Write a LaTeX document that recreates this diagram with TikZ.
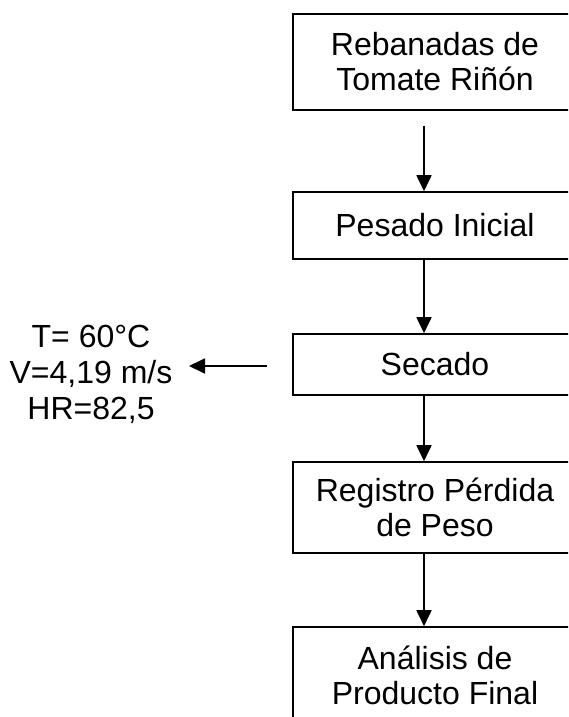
\documentclass[tikz,border=0pt]{standalone}
\usepackage{fontspec}
\setmainfont{Liberation Sans}
\usetikzlibrary{arrows.meta}
\begin{document}
\begin{tikzpicture}[x=1pt,y=-1pt,
  stepbox/.style={draw=black, line width=1.6pt, minimum width=284pt, align=center, inner sep=0pt,
    font=\fontsize{32}{35}\selectfont},
  arr/.style={line width=1.8pt, -{Triangle[width=15pt,length=16pt]}},
  lbl/.style={align=center, inner sep=0pt, font=\fontsize{32}{36}\selectfont}]
\useasboundingbox (0,0) rectangle (568,717);
\clip (0,0) rectangle (568,717);
\node[stepbox, minimum height=96pt] (s1) at (435,62) {Rebanadas de\\Tomate Riñón};
\node[stepbox, minimum height=67pt] (s2) at (435,225.5) {Pesado Inicial};
\node[stepbox, minimum height=61pt] (s3) at (435,364.5) {Secado};
\node[stepbox, minimum height=91pt] (s4) at (435,507.5) {Registro Pérdida\\de Peso};
\node[stepbox, minimum height=96pt] (s5) at (435,675) {Análisis de\\Producto Final};
\node[lbl] (params) at (91,374) {T= 60°C\\V=4,19 m/s\\HR=82,5};
\coordinate (ax) at (424,0);
\coordinate (a1) at (267,366);
\coordinate (a2) at (189,366);
\draw[arr] (s1.south -| ax) ++(0,15) -- (s2.north -| ax);
\draw[arr] (s2.south -| ax) -- (s3.north -| ax);
\draw[arr] (s3.south -| ax) -- (s4.north -| ax);
\draw[arr] (s4.south -| ax) -- (s5.north -| ax);
\draw[arr] (a1) -- (a2);
\end{tikzpicture}
\end{document}
